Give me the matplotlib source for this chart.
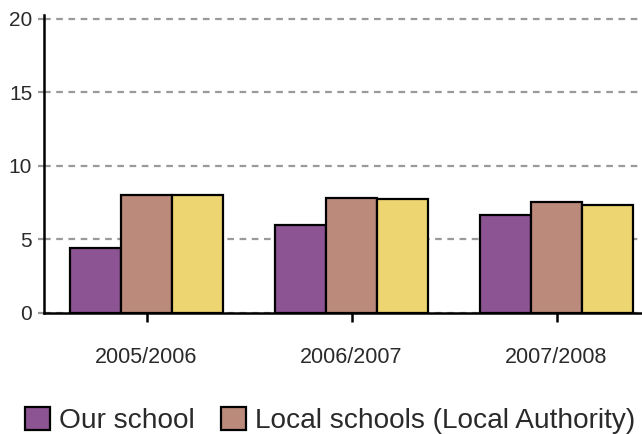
import matplotlib
matplotlib.use("Agg")
import matplotlib.pyplot as plt
import matplotlib.patches as mpatches
import numpy as np

plt.rcParams["font.family"] = ["Liberation Sans", "DejaVu Sans"]

# データ
years = ["2005/2006", "2006/2007", "2007/2008"]
our_school = [4.4, 6.0, 6.65]
local_schools = [8.05, 7.85, 7.55]
national = [8.05, 7.75, 7.35]

series_labels = ["Our school", "Local schools (Local Authority)"]
colors = ["#8D5494", "#BC8A7B", "#EDD571"]

W, H = 642, 434
fig = plt.figure(figsize=(W / 100, H / 100), dpi=100)
# 軸は右端で画像外まで伸びている
ax = fig.add_axes([44 / W, 121 / H, 615 / W, 298 / H])

x = np.arange(len(years))
bw = 0.25
for i, vals in enumerate([our_school, local_schools, national]):
    ax.bar(x + (i - 1) * bw, vals, width=bw, color=colors[i],
           edgecolor="black", linewidth=1.6, zorder=3)

ax.set_xlim(-0.5, len(years) - 0.5)
ax.set_ylim(0, 20.27)
ax.set_yticks([0, 5, 10, 15, 20])
ax.set_xticks(x)
ax.set_xticklabels(years)

ax.grid(axis="y", color="#9a9a9a", linestyle=(0, (3, 2.5)), linewidth=1.6, zorder=1)
for s in ["top", "right"]:
    ax.spines[s].set_visible(False)
ax.spines["left"].set_linewidth(1.8)
ax.spines["bottom"].set_linewidth(1.8)
ax.spines["left"].set_zorder(4)
ax.spines["bottom"].set_zorder(4)

ax.tick_params(axis="y", length=4.5, width=1.6, color="#9a9a9a",
               labelsize=15, pad=4, labelcolor="#2a2a2a")
ax.tick_params(axis="x", length=6.5, width=1.8, color="black",
               labelsize=15.5, pad=18, labelcolor="#2a2a2a")

handles = [mpatches.Patch(facecolor=colors[i], edgecolor="black", linewidth=1.6)
           for i in range(2)]
fig.legend(handles, series_labels, loc="center left",
           bbox_to_anchor=(25 / W, 13.5 / H), ncol=2, frameon=False,
           fontsize=20.2, handlelength=0.88, handleheight=0.88,
           handletextpad=0.32, columnspacing=0.95, borderpad=0,
           borderaxespad=0, labelcolor="#2a2a2a")

fig.savefig("out.png", dpi=100)
